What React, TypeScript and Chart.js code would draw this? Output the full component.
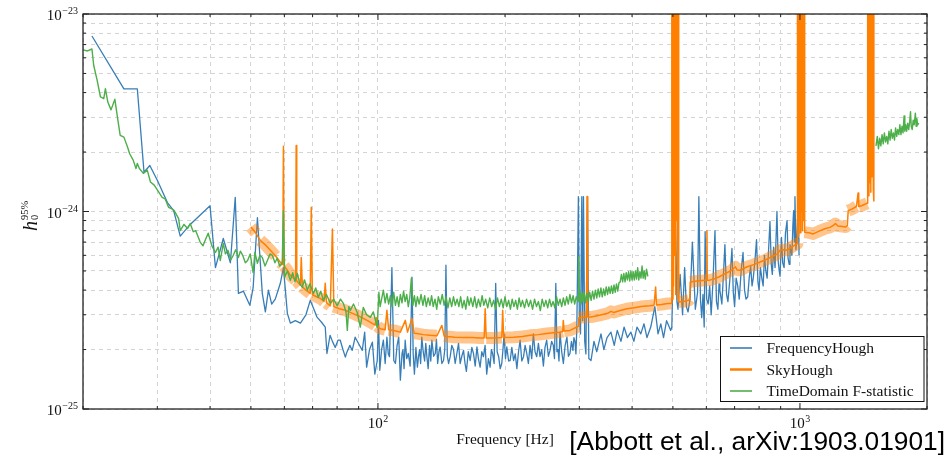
import React, { useEffect, useRef } from 'react';
import { Chart, registerables } from 'chart.js';

Chart.register(...registerables);

// Frequencies in Hz, h0 (95% upper limits) in units of 1e-25
const H_UNIT = 1e-25;

const frequencyHough: [number, number][] = [
  [21.0, 77.4], [25.0, 41.8], [26.9, 41.8], [27.9, 15.8], [28.8, 17.1], [30.0, 14.4], [31.7, 11.1], [32.8, 10.1],
  [34.0, 7.5], [35.9, 8.6], [40.0, 10.7], [41.2, 5.2], [43.0, 7.3], [44.7, 5.5], [45.9, 11.8], [46.7, 3.85],
  [48.0, 3.95], [49.7, 3.35], [50.6, 4.1], [51.8, 9.3], [53.2, 3.85], [54.1, 3.1], [55.0, 4.0], [56.0, 3.4],
  [57.1, 3.6], [58.7, 4.33], [59.7, 5.2], [61.0, 3.05], [62.0, 2.72], [63.7, 2.8], [65.5, 2.72], [67.5, 3.0],
  [69.1, 3.55], [70.5, 3.2], [71.7, 2.92], [73.5, 2.75], [75.0, 2.6], [75.7, 1.91], [77.0, 2.36], [78.0, 2.2],
  [79.2, 2.05], [80.4, 2.23], [81.4, 2.23], [82.6, 2.0], [83.7, 1.83], [84.4, 1.94], [85.8, 2.1], [86.9, 1.98],
  [88.3, 2.31], [90.0, 2.14], [91.8, 1.98], [93.0, 2.45], [94.0, 1.63], [95.5, 2.0], [97.0, 2.18], [98.3, 1.5],
  [99.6, 1.76], [100.3, 2.81],
  [101, 1.57], [102, 2.0], [103, 2.23], [104, 1.7], [105, 2.31], [105.8, 1.9], [106.5, 1.84], [107.9, 5.2],
  [109, 1.76], [110, 1.7], [111, 2.1], [112, 2.31], [113, 1.4], [114, 1.9], [114.6, 2.0], [115.3, 1.6],
  [116, 2.23], [117, 1.8], [118, 1.91], [119.2, 1.65], [120.4, 4.65], [121.2, 1.9], [122, 1.5], [123, 2.05],
  [124, 1.63], [124.8, 1.85], [125.5, 2.0], [126.2, 1.7], [127, 2.31], [128, 1.95], [129, 1.75], [129.8, 2.15],
  [130.6, 1.84], [131.5, 1.6], [132.5, 2.1], [133.4, 1.75], [134.2, 2.23], [135.5, 1.85], [136.7, 1.91], [137.6, 2.25],
  [138.5, 1.7], [139.5, 1.95], [140.4, 2.06], [141.7, 1.7], [143, 1.76], [144, 2.0], [144.9, 5.35], [146, 1.85],
  [147, 1.7], [148.3, 1.84], [149.6, 2.1], [151, 2.0], [152.4, 1.7], [153.8, 1.91], [155.2, 2.15], [156.6, 1.7],
  [158, 1.85], [159.5, 1.98], [160.8, 1.7], [162, 1.55], [163.7, 1.95], [165.4, 1.76], [166.9, 2.05], [168.4, 1.91],
  [170, 1.65], [171.6, 2.06], [173, 1.8], [174.6, 1.63], [176.2, 1.95], [177.8, 1.84], [179.4, 2.1], [181, 1.5],
  [182.7, 1.8], [184.4, 1.63], [185.7, 2.0], [187, 1.9], [188.5, 1.7], [190.1, 4.33], [191.6, 1.95], [193.2, 1.84],
  [194.8, 1.6], [196.5, 1.7], [197.8, 2.0], [199, 2.4], [200.5, 1.8], [202, 2.06], [204, 1.75], [205.7, 1.76],
  [207.6, 2.05], [209.6, 1.76], [211.5, 1.9], [213.4, 1.6], [215.3, 1.95], [217.2, 2.23], [219.2, 1.75], [221.3, 1.84],
  [223.2, 2.1], [225.2, 1.91], [227.2, 1.7], [229.3, 2.1], [231.4, 1.8], [233.5, 2.4], [235.6, 1.95], [237.8, 1.84],
  [240, 2.15], [242.1, 1.84], [244.3, 2.0], [246.6, 1.65], [248.8, 2.05], [251.1, 2.23], [253.4, 1.85], [255.7, 1.98],
  [258, 2.2], [260.3, 2.1], [262, 1.8], [263.9, 4.33], [265.5, 1.95], [267.1, 2.0], [268.5, 1.75], [270, 2.45],
  [272.5, 1.95], [275, 1.7], [277.7, 2.1], [280.4, 2.31], [282.7, 1.85], [285.1, 1.91], [287.4, 2.2], [289.7, 1.98],
  [291.3, 2.3], [293, 2.2], [294.5, 1.9], [296, 2.6],
  [298.5, 11.9], [300, 3.0], [302, 2.4], [304.1, 11.9], [305.5, 2.8], [306.9, 11.9], [309, 2.2], [311, 1.9],
  [313.6, 11.9], [316, 1.8], [319.8, 1.76], [325, 2.2], [330, 1.95], [337.6, 2.4], [343, 2.0], [349, 2.3],
  [356.5, 2.45], [363, 2.1], [369, 2.5], [376.5, 2.2], [383, 2.6], [390, 2.3], [397.5, 2.45], [404, 2.2],
  [411, 2.6], [419.6, 2.4], [427, 2.7], [434, 2.3], [443, 2.6], [453, 3.3], [461, 2.4], [468, 2.7],
  [475, 2.3], [483, 2.8], [494, 2.5], [497, 2.6], [500.5, 5.2], [506, 11.9], [511, 3.5], [514, 3.2],
  [520, 4.8], [527, 3.0], [533, 5.2], [538, 3.3], [543, 3.1], [549, 3.6], [556, 7.0], [565, 3.2],
  [572, 3.9], [576, 11.9], [581, 3.6], [585, 2.9], [589, 3.8], [593, 2.6], [596, 7.9], [601, 3.6],
  [606, 3.4], [611, 4.2], [616, 3.0], [622, 4.4], [629, 8.0], [634, 3.5], [639, 3.2], [643, 4.3],
  [646, 4.0], [653, 3.4], [658, 4.6], [664, 6.8], [670, 3.8], [675, 3.5], [682, 4.5], [690, 6.5],
  [695, 3.9], [700, 3.3], [706, 4.6], [712, 4.2], [718, 3.6], [726, 5.1], [733, 6.2], [739, 4.0],
  [745, 3.6], [752, 3.7], [758, 4.6], [764, 5.3], [770, 4.2], [775, 4.6], [782, 5.6], [789, 7.2],
  [795, 4.4], [800, 4.0], [806, 5.2], [812, 4.6], [818, 4.2], [824, 6.0], [830, 5.0], [836, 4.6],
  [842, 6.2], [849, 8.9], [855, 5.4], [860, 4.8], [866, 6.6], [873, 5.2], [882, 10.0], [888, 5.6],
  [893, 5.0], [897, 4.7], [904, 7.4], [910, 5.5], [917, 5.2], [924, 7.8], [932, 9.0], [937, 5.8],
  [943, 5.4], [947, 6.8], [952, 6.3], [957, 6.0], [962, 8.5], [966, 10.1], [970, 7.0], [973, 11.9],
  [978, 6.4], [984, 7.6], [990, 11.0], [995, 6.0],
];

const skyHough: [number, number][] = [
  [50.0, 8.35], [51.3, 7.8], [52.6, 7.15], [54.0, 6.8], [55.6, 6.36], [57.2, 5.95], [58.7, 5.53], [59.5, 5.4],
  [59.7, 21.4], [59.9, 5.3], [61.0, 5.05], [62.0, 4.75], [63.8, 4.5], [64.0, 21.6], [64.2, 4.45], [65.5, 4.23],
  [65.8, 5.85], [66.2, 4.15], [67.5, 4.0], [69.1, 3.85], [69.5, 10.5], [69.9, 3.8], [71.5, 3.7], [73.0, 3.63],
  [74.5, 3.5], [75.0, 4.33], [75.5, 3.45], [77.1, 3.33], [78.0, 8.15], [78.6, 3.3], [81.0, 3.22], [83.7, 3.16],
  [87.0, 3.05], [90.8, 2.93], [94.5, 2.8], [98.5, 2.66], [99.0, 2.91], [99.6, 2.63], [101.3, 2.55], [104.0, 2.52],
  [105.0, 3.16], [106.0, 2.52], [108.9, 2.5], [113.0, 2.45], [116.1, 2.81], [117.5, 2.45], [120.4, 2.87], [121.8, 2.42],
  [123.7, 2.41], [128.0, 2.38], [133.0, 2.36], [138.0, 2.35], [141.7, 2.65], [143.5, 2.34], [145.8, 2.33], [152.0, 2.31],
  [159.5, 2.3], [167.0, 2.3], [174.6, 2.29], [178.5, 2.29], [179.5, 3.22], [180.5, 2.29], [188.0, 2.29], [196.5, 2.3],
  [197.5, 3.16], [198.5, 2.3], [209.6, 2.31], [220.0, 2.33], [229.3, 2.36], [240.0, 2.38], [251.1, 2.41], [260.0, 2.43],
  [270.0, 2.45], [274.0, 2.47], [274.9, 2.81], [276.0, 2.48], [285.1, 2.5], [296.0, 2.6], [298.0, 2.62], [299.0, 2.9],
  [312.0, 2.92], [313.0, 11.9], [314.0, 2.92], [319.8, 2.92], [335.0, 2.98], [350.0, 3.05], [356.5, 3.12], [362.0, 3.08],
  [375.0, 3.15], [389.0, 3.22], [405.0, 3.26], [420.0, 3.3], [440.0, 3.33], [451.0, 3.35], [455.0, 4.15], [457.0, 3.36],
  [470.0, 3.38], [486.0, 3.42], [496.0, 3.42],
  [497, 1000], [498.5, 3.6], [500, 1000], [501.5, 4.2], [503, 1000], [504.5, 6], [506, 1000], [507.5, 3.8],
  [509, 1000], [510.5, 9], [512, 1000], [513.5, 3.6], [515, 1000],
  [516, 3.48], [530, 3.5], [545, 3.55], [548, 3.6], [549.5, 4.4], [570, 4.45], [596, 4.48], [601, 4.48],
  [602, 8.0], [603, 4.48], [608, 4.48], [625, 4.55], [642, 4.66], [665, 4.85], [689, 5.04], [703, 5.25],
  [710, 5.05], [721, 5.04], [750, 5.25], [780, 5.4], [804, 5.55], [830, 5.7], [861, 5.93], [885, 6.1],
  [897, 6.37], [915, 6.4], [932, 6.37], [950, 6.55], [966, 6.7], [984, 6.87], [986, 6.9],
  [987, 1000], [990, 7.5], [993, 1000], [996, 9], [999, 1000], [1002, 7.8], [1005, 1000], [1008, 10],
  [1011, 1000], [1014, 8], [1017, 1000], [1020, 9], [1023, 1000],
  [1026, 7.86], [1050, 7.8], [1075, 7.7], [1110, 7.95], [1150, 8.2], [1178, 8.31], [1200, 8.5], [1213, 8.7],
  [1230, 8.45], [1260, 8.4], [1284, 8.35], [1295, 8.5], [1301, 10.1], [1330, 10.3], [1361, 10.6], [1373, 12.4],
  [1378, 10.6], [1400, 10.7], [1420, 10.85], [1443, 11.0],
  [1447, 1000], [1452, 12], [1457, 1000], [1462, 14], [1467, 1000], [1472, 12.5], [1477, 1000], [1482, 15],
  [1487, 1000], [1492, 13], [1496, 1000], [1497, 11.3],
];

const timeDomain: [number, number | null][] = [
  [20.0, 65.8], [20.5, 65.0], [21.0, 66.5], [21.2, 55.0], [21.6, 46.3], [22.0, 38.0], [22.4, 37.3], [22.6, 41.9],
  [22.9, 35.8], [23.3, 32.7], [23.8, 37.0], [24.1, 30.7], [24.5, 24.3], [25.0, 23.8], [25.5, 21.2], [25.8, 19.6],
  [26.3, 18.2], [26.7, 16.5], [26.9, 17.5], [27.2, 16.5], [27.8, 15.6], [28.4, 16.2], [28.9, 14.1], [29.5, 13.6],
  [30.0, 12.85], [30.8, 11.8], [31.3, 11.6], [31.9, 10.5], [32.5, 10.3], [32.9, 10.1], [33.7, 9.2], [34.0, 8.0],
  [34.7, 8.6], [35.4, 8.2], [35.9, 8.7], [36.5, 7.9], [37.0, 8.0], [37.9, 7.0], [38.5, 6.7], [39.0, 7.2],
  [39.6, 7.76], [40.4, 6.7], [41.2, 6.2], [41.8, 6.6], [42.3, 5.65], [43.0, 6.9], [43.5, 6.1], [44.1, 6.36],
  [44.8, 5.7], [45.4, 6.0], [46.0, 6.4], [46.7, 5.85], [47.2, 6.3], [47.8, 6.0], [48.5, 5.5], [49.1, 5.65],
  [49.8, 6.1], [50.6, 4.9], [51.1, 6.2], [51.8, 5.47], [52.5, 6.0], [53.2, 5.85], [54.0, 5.3], [54.7, 5.65],
  [55.5, 6.1], [56.2, 6.0], [57.0, 5.5], [57.7, 5.8], [58.5, 5.3], [59.3, 5.47], [59.7, 10.1], [60.1, 4.65],
  [61.0, 5.0], [62.0, 4.48], [62.8, 4.9], [63.6, 4.4], [64.4, 4.86], [65.3, 4.3], [66.2, 4.13], [67.0, 4.5],
  [68.0, 4.0], [69.0, 4.3], [70.3, 3.85], [71.2, 4.1], [72.2, 3.67], [73.2, 3.95], [74.2, 3.55], [75.5, 3.8],
  [77.1, 3.43], [78.5, 3.6], [80.1, 3.33], [81.5, 3.6], [82.8, 3.43], [84.0, 3.1], [84.6, 2.5], [85.3, 3.3],
  [86.0, 3.16], [87.5, 3.4], [89.3, 3.08], [90.8, 2.6], [92.3, 3.27], [94.0, 3.0], [95.9, 2.91], [97.5, 3.1],
  [99.6, 2.59],
  [100.5, 3.9], [101.2, 3.3], [102, 3.6], [103, 4.0], [104, 3.45], [105, 3.85], [106, 3.4], [107, 3.75],
  [108, 3.3], [109, 3.9], [110, 3.35], [111, 3.7], [112, 3.3], [113, 3.8], [114, 3.45], [115, 3.95],
  [116, 3.5], [117, 3.8], [118, 3.3], [119, 3.7], [120, 4.6], [121, 3.35], [122, 3.75], [123, 3.3],
  [124, 3.7], [125.2, 3.4], [126.5, 3.8], [127.8, 3.35], [129, 3.75], [130.2, 3.3], [131.5, 3.65], [132.8, 3.35],
  [134, 3.75], [135.2, 3.3], [136.5, 3.6], [137.8, 3.2], [139, 3.7], [140.5, 3.4], [142, 3.8], [143.5, 3.35],
  [145, 3.7], [146.5, 3.25], [148, 3.65], [149.5, 3.3], [151, 3.7], [152.5, 3.35], [154, 3.6], [155.5, 3.3],
  [157, 3.7], [158.5, 3.25], [160, 3.55], [161.5, 3.2], [163, 3.7], [164.5, 3.35], [166, 3.65], [167.8, 3.3],
  [169.5, 3.7], [171.2, 3.25], [173, 3.6], [174.8, 3.3], [176.5, 3.75], [178.2, 3.35], [180, 3.6], [182, 3.25],
  [184, 3.65], [186, 3.3], [188, 3.55], [190, 3.2], [192, 3.65], [194, 3.3], [196, 3.6], [198, 3.25],
  [200, 3.7], [202, 3.3], [204, 3.55], [206, 3.2], [208, 3.6], [210, 3.3], [212, 3.55], [214, 3.2],
  [216, 3.65], [218, 3.3], [220, 3.55], [222.5, 3.25], [225, 3.6], [227.5, 3.3], [230, 3.55], [232.5, 3.2],
  [235, 3.6], [237.5, 3.3], [240, 3.5], [242.5, 3.15], [245, 3.6], [247.5, 3.3], [250, 3.55], [252.5, 3.25],
  [255, 3.6], [257.5, 3.3], [260, 3.5], [262.5, 3.25], [265, 3.7], [267.5, 3.35], [270, 3.6], [272.5, 3.3],
  [275, 3.65], [277.5, 3.35], [280, 3.7], [282.5, 3.4], [285, 3.8], [287.5, 3.45], [290, 3.75], [292.5, 3.4],
  [295, 3.7], [298, 3.5], [299, 5.9], [300, 3.55], [301.5, 3.9], [303, 3.4], [304.5, 3.85], [306, 3.5],
  [308, 3.9], [310, 3.45], [312.5, 3.85], [315, 3.5], [317.5, 3.9], [320, 3.55], [322.5, 3.95], [325, 3.6],
  [327.5, 4.0], [330, 3.65], [332.5, 4.05], [335, 3.7], [337.5, 4.1], [340, 3.7], [342.5, 4.05], [345, 3.75],
  [347.5, 4.15], [350, 3.8], [352.5, 4.15], [355, 3.85], [357.5, 4.2], [360, 3.85], [362.5, 4.25], [365, 3.9],
  [367.5, 4.3], [370, 3.95], [372.5, 4.35], [375, 4.4], [377.5, 4.8], [380, 4.4], [382.5, 4.85], [385, 4.4],
  [387.5, 4.9], [390, 4.5], [392.5, 4.95], [395, 4.45], [397.5, 5.0], [400, 4.5], [402.5, 4.95], [405, 4.5],
  [407.5, 5.0], [410, 4.55], [412.5, 5.2], [415, 4.5], [417.5, 4.95], [420, 4.6], [422.5, 5.3], [425, 4.6],
  [427.5, 5.0], [430, 4.55], [433, 5.1], [436, 4.7],
  [900, null],
  [1514, 21.5], [1525, 24.0], [1535, 20.8], [1545, 23.5], [1555, 21.5], [1565, 24.5], [1575, 22.0], [1585, 25.0],
  [1595, 22.5], [1605, 24.0], [1615, 22.0], [1625, 25.5], [1635, 23.0], [1645, 26.0], [1655, 23.5], [1665, 25.0],
  [1675, 23.0], [1685, 26.5], [1695, 24.0], [1705, 26.0], [1715, 24.5], [1725, 27.5], [1735, 24.5], [1745, 27.0],
  [1755, 25.0], [1765, 30.5], [1772, 25.5], [1780, 27.5], [1790, 25.5], [1800, 28.0], [1810, 26.0], [1820, 28.5],
  [1828, 32.0], [1835, 27.0], [1845, 26.0], [1855, 29.0], [1865, 27.5], [1877, 31.5], [1885, 27.0], [1893, 29.5],
  [1900, 27.5], [1913, 28.0],
];

const X_TICKS = [20, 30, 40, 50, 60, 70, 80, 90, 100, 200, 300, 400, 500, 600, 700, 800, 900, 1000, 2000];
const Y_TICKS = [1, 2, 3, 4, 5, 6, 7, 8, 9, 10, 20, 30, 40, 50, 60, 70, 80, 90, 100];

const BLUE = '#377eb8';
const ORANGE = '#ff7f00';
const GREEN = '#4daf4a';
const SERIF = "'Liberation Serif', 'DejaVu Serif', serif";

const toPoints = (rows: [number, number | null][]) =>
  rows.map(([f, h]) => ({ x: f, y: h == null ? null : h * H_UNIT }));

const isDecade = (v: number) => {
  const l = Math.log10(v);
  return Math.abs(l - Math.round(l)) < 1e-6;
};

function drawPower(ctx: CanvasRenderingContext2D, exp: string, x: number, y: number, align: 'right' | 'center') {
  ctx.font = `15px ${SERIF}`;
  const wb = ctx.measureText('10').width;
  ctx.font = `10px ${SERIF}`;
  const we = ctx.measureText(exp).width;
  const total = wb + we + 0.5;
  const x0 = align === 'right' ? x - total : x - total / 2;
  ctx.textAlign = 'left';
  ctx.textBaseline = 'alphabetic';
  ctx.font = `15px ${SERIF}`;
  ctx.fillText('10', x0, y);
  ctx.font = `10px ${SERIF}`;
  ctx.fillText(exp, x0 + wb + 0.5, y - 6);
}

const decorations = {
  id: 'decorations',
  afterDraw(chart: any) {
    const { ctx, chartArea: a, scales } = chart;
    const xs = scales.x;
    const ys = scales.y;
    ctx.save();
    ctx.fillStyle = '#111';
    ctx.strokeStyle = '#222';

    // inward ticks on all sides
    ctx.lineWidth = 1;
    ctx.beginPath();
    X_TICKS.forEach((v) => {
      const p = xs.getPixelForValue(v);
      const len = isDecade(v) ? 6 : 3;
      ctx.moveTo(p, a.bottom);
      ctx.lineTo(p, a.bottom - len);
      ctx.moveTo(p, a.top);
      ctx.lineTo(p, a.top + len);
    });
    Y_TICKS.forEach((v) => {
      const p = ys.getPixelForValue(v * H_UNIT);
      const len = isDecade(v) ? 6 : 3;
      ctx.moveTo(a.left, p);
      ctx.lineTo(a.left + len, p);
      ctx.moveTo(a.right, p);
      ctx.lineTo(a.right - len, p);
    });
    ctx.stroke();

    // frame
    ctx.lineWidth = 1.3;
    ctx.strokeRect(a.left, a.top, a.right - a.left, a.bottom - a.top);

    // tick labels
    X_TICKS.filter(isDecade).forEach((v) => {
      const p = xs.getPixelForValue(v);
      drawPower(ctx, String(Math.round(Math.log10(v))), p, a.bottom + 19, 'center');
    });
    Y_TICKS.filter(isDecade).forEach((v) => {
      const p = ys.getPixelForValue(v * H_UNIT);
      const e = Math.round(Math.log10(v * H_UNIT));
      drawPower(ctx, '\u2212' + String(Math.abs(e)), a.left - 5, p + 6, 'right');
    });

    // x-axis title
    ctx.font = `15.5px ${SERIF}`;
    ctx.textAlign = 'center';
    ctx.textBaseline = 'alphabetic';
    ctx.fillText('Frequency [Hz]', (a.left + a.right) / 2, 444);

    // y-axis title h_0^{95%}
    ctx.save();
    ctx.translate(37, 231);
    ctx.rotate(-Math.PI / 2);
    ctx.textAlign = 'left';
    ctx.font = `italic 20px ${SERIF}`;
    ctx.fillText('h', 0, 0);
    const wh = ctx.measureText('h').width;
    ctx.font = `10.5px ${SERIF}`;
    ctx.fillText('0', wh + 1, 1);
    ctx.fillText('95%', wh + 1, -9.5);
    ctx.restore();

    // legend
    const lx = 720.5, ly = 336.5, lw = 203.5, lh = 65;
    ctx.fillStyle = '#fff';
    ctx.fillRect(lx, ly, lw, lh);
    ctx.lineWidth = 1;
    ctx.strokeStyle = '#111';
    ctx.strokeRect(lx, ly, lw, lh);
    const entries = chart.data.datasets.filter((d: any) => d.label);
    entries.forEach((d: any, i: number) => {
      const cy = 348 + i * 21.5;
      ctx.strokeStyle = d.borderColor;
      ctx.lineWidth = d.label === 'SkyHough' ? 2.5 : 1.6;
      ctx.beginPath();
      ctx.moveTo(730, cy);
      ctx.lineTo(752, cy);
      ctx.stroke();
      ctx.fillStyle = '#111';
      ctx.font = `15.5px ${SERIF}`;
      ctx.textAlign = 'left';
      ctx.textBaseline = 'middle';
      ctx.fillText(d.label, 766.5, cy + 1);
    });

    // citation
    ctx.fillStyle = '#000';
    ctx.font = "26.3px 'Liberation Sans', Arial, sans-serif";
    ctx.textAlign = 'right';
    ctx.textBaseline = 'alphabetic';
    ctx.fillText('[Abbott et al., arXiv:1903.01901]', 945, 450);
    ctx.restore();
  },
};

export default function App() {
  const ref = useRef<HTMLCanvasElement | null>(null);

  useEffect(() => {
    document.body.style.margin = '0';
    document.body.style.background = '#fff';
    if (!ref.current) return;
    // hide the translucent band on steep (spike) segments so that it only spreads vertically
    const bandHide = (c: any) => (Math.abs(c.p1.y - c.p0.y) > 6 ? 'rgba(0,0,0,0)' : undefined);
    const chart = new Chart(ref.current, {
      type: 'line',
      data: {
        datasets: [
          {
            label: 'FrequencyHough',
            data: toPoints(frequencyHough),
            borderColor: BLUE,
            borderWidth: 1.3,
            pointRadius: 0,
            borderJoinStyle: 'round',
            tension: 0,
            order: 4,
            clip: 0,
          },
          {
            label: '',
            data: toPoints(skyHough),
            borderColor: 'rgba(255,127,0,0.45)',
            borderWidth: 12,
            pointRadius: 0,
            borderJoinStyle: 'round',
            borderCapStyle: 'butt',
            segment: { borderColor: bandHide },
            tension: 0,
            order: 3,
            clip: 0,
          },
          {
            label: 'SkyHough',
            data: toPoints(skyHough),
            borderColor: ORANGE,
            borderWidth: 1.5,
            pointRadius: 0,
            borderJoinStyle: 'round',
            tension: 0,
            order: 2,
            clip: 0,
          },
          {
            label: 'TimeDomain F-statistic',
            data: toPoints(timeDomain),
            borderColor: GREEN,
            borderWidth: 1.4,
            pointRadius: 0,
            borderJoinStyle: 'round',
            spanGaps: false,
            tension: 0,
            order: 1,
            clip: 0,
          },
        ],
      } as any,
      options: {
        responsive: false,
        animation: false,
        events: [],
        layout: { padding: { left: 0, right: 23, top: 14, bottom: 0 } },
        plugins: { legend: { display: false }, tooltip: { enabled: false } },
        scales: {
          x: {
            type: 'logarithmic',
            min: 20,
            max: 2000,
            afterBuildTicks: (s: any) => {
              s.ticks = X_TICKS.map((v) => ({ value: v }));
            },
            afterFit: (s: any) => {
              s.height = 50;
            },
            ticks: { display: false },
            grid: { color: '#d4d4d4', lineWidth: 1, drawTicks: false },
            border: { display: false, dash: [4, 4] },
          },
          y: {
            type: 'logarithmic',
            min: 1e-25,
            max: 1e-23,
            afterBuildTicks: (s: any) => {
              s.ticks = Y_TICKS.map((v) => ({ value: v * H_UNIT }));
            },
            afterFit: (s: any) => {
              s.width = 83;
            },
            ticks: { display: false },
            grid: { color: '#d4d4d4', lineWidth: 1, drawTicks: false },
            border: { display: false, dash: [4, 4] },
          },
        },
      } as any,
      plugins: [decorations],
    });
    return () => chart.destroy();
  }, []);

  return (
    <div style={{ width: 950, height: 459 }}>
      <canvas ref={ref} width={950} height={459} style={{ display: 'block' }} />
    </div>
  );
}
